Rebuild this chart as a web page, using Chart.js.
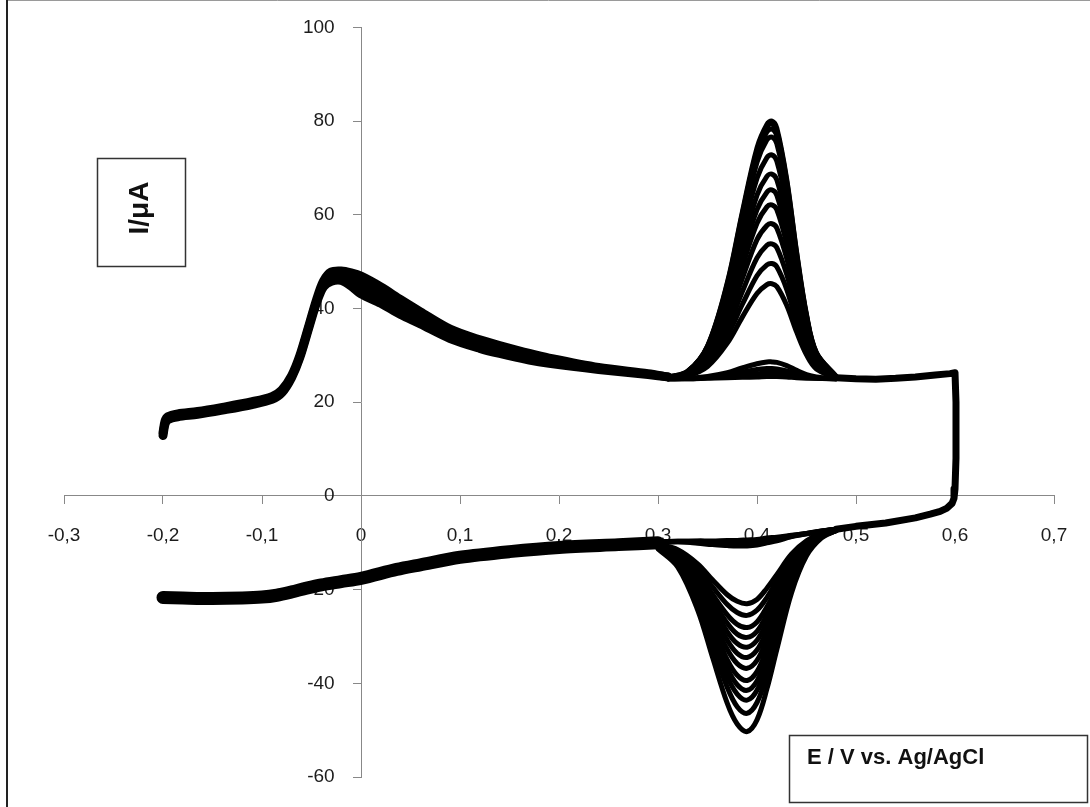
<!DOCTYPE html>
<html>
<head>
<meta charset="utf-8">
<script src="https://cdn.jsdelivr.net/npm/chart.js@4"></script>
<style>
  body { margin: 0; background: #fff; }
  canvas { display: block; }
</style>
</head>
<body>
<canvas id="cvChart" width="1090" height="807"></canvas>
<script>
// axis ticks
var xTicks = [-0.3, -0.2, -0.1, 0, 0.1, 0.2, 0.3, 0.4, 0.5, 0.6, 0.7];
var yTicks = [-60, -40, -20, 0, 20, 40, 60, 80, 100];

// forward scan, shared part (-0.2 .. 0.31 V), upper and lower edge of the band
var fwdE     = [-0.200, -0.198, -0.195, -0.185, -0.165, -0.14, -0.11, -0.09, -0.08, -0.07, -0.062, -0.052, -0.045, -0.038, -0.03, -0.02, -0.01, 0, 0.02, 0.04, 0.06, 0.09, 0.12, 0.14, 0.17, 0.19, 0.24, 0.29, 0.31];
var fwdUpper = [13.5, 15.9, 16.9, 17.5, 18.0, 18.9, 20.1, 21.2, 22.6, 25.7, 29.8, 36.8, 41.8, 45.8, 47.8, 48.0, 47.6, 46.9, 44.6, 41.9, 39.3, 35.6, 33.3, 32.1, 30.4, 29.4, 27.4, 26.1, 25.4];
var fwdLower = [12.9, 15.3, 16.3, 16.9, 17.4, 18.3, 19.5, 20.6, 22.0, 25.3, 29.4, 36.4, 41.2, 44.6, 45.8, 46.0, 44.8, 43.1, 41.1, 38.7, 36.7, 33.6, 31.5, 30.4, 29.0, 28.3, 27.0, 25.9, 25.4];

// anodic peak region, one row per cycle
var anodicE = [0.31, 0.33, 0.35, 0.37, 0.385, 0.40, 0.41, 0.415, 0.42, 0.43, 0.44, 0.45, 0.46, 0.48];
var anodicCycles = [
  [25.0, 25.0, 25.1, 25.2, 25.3, 25.4, 25.5, 25.5, 25.5, 25.4, 25.2, 25.1, 25.1, 25.0],
  [25.0, 25.0, 25.2, 25.4, 25.8, 26.1, 26.2, 26.2, 26.2, 25.9, 25.6, 25.3, 25.1, 25.0],
  [25.0, 25.1, 25.3, 25.8, 26.4, 27.0, 27.2, 27.2, 27.1, 26.7, 26.1, 25.5, 25.2, 25.0],
  [25.0, 25.1, 25.5, 26.3, 27.3, 28.2, 28.6, 28.6, 28.5, 27.8, 26.8, 25.9, 25.4, 25.0],
  [25.1, 25.6, 27.6, 32.6, 38.1, 43.2, 45.1, 45.3, 44.7, 40.7, 35.0, 30.1, 27.1, 25.2],
  [25.1, 25.7, 28.1, 34.2, 40.8, 47.0, 49.3, 49.6, 48.9, 44.1, 37.1, 31.1, 27.5, 25.2],
  [25.1, 25.8, 28.7, 35.7, 43.5, 50.8, 53.5, 53.8, 53.0, 47.3, 39.2, 32.2, 27.9, 25.2],
  [25.2, 26.0, 29.2, 37.3, 46.3, 54.7, 57.7, 58.1, 57.2, 50.7, 41.3, 33.2, 28.3, 25.3],
  [25.2, 26.1, 29.7, 38.8, 48.9, 58.2, 61.7, 62.1, 61.1, 53.8, 43.3, 34.2, 28.7, 25.3],
  [25.2, 26.2, 30.1, 40.0, 51.0, 61.1, 64.8, 65.3, 64.2, 56.2, 44.8, 35.0, 29.1, 25.3],
  [25.2, 26.3, 30.6, 41.3, 53.1, 64.2, 68.2, 68.7, 67.5, 58.9, 46.5, 35.9, 29.4, 25.4],
  [25.2, 26.4, 31.1, 42.8, 55.8, 67.8, 72.2, 72.8, 71.5, 62.1, 48.5, 36.9, 29.8, 25.4],
  [25.2, 26.5, 31.6, 44.2, 58.2, 71.2, 76.0, 76.6, 75.2, 65.0, 50.4, 37.9, 30.2, 25.4],
  [25.2, 26.5, 31.8, 44.8, 59.3, 72.8, 77.7, 78.3, 76.8, 66.3, 51.2, 38.3, 30.4, 25.4],
  [25.3, 26.6, 31.9, 45.2, 60.0, 73.7, 78.8, 79.4, 77.9, 67.2, 51.8, 38.5, 30.5, 25.5],
  [25.3, 26.6, 32.0, 45.5, 60.4, 74.3, 79.3, 80.0, 78.5, 67.6, 52.1, 38.7, 30.6, 25.5]
];

// switching end: forward tail, drop at 0.6 V, start of reverse scan
var endE = [0.48, 0.50, 0.52, 0.54, 0.56, 0.58, 0.595, 0.600, 0.601, 0.601, 0.600, 0.599, 0.597, 0.592, 0.585, 0.575, 0.56, 0.53, 0.50, 0.48];
var endI = [25.2, 25.0, 24.9, 25.1, 25.4, 25.8, 26.1, 26.3, 20.0, 8.0, 1.5, -0.5, -1.6, -2.6, -3.3, -3.9, -4.7, -5.8, -6.5, -7.1];

// cathodic peak region, one row per cycle
var cathodicE = [0.30, 0.32, 0.34, 0.355, 0.37, 0.38, 0.39, 0.40, 0.41, 0.42, 0.435, 0.45, 0.465, 0.48];
var cathodicCycles = [
  [-9.8, -9.7, -9.6, -9.6, -9.5, -9.5, -9.4, -9.3, -9.0, -8.8, -8.4, -8.0, -7.5, -7.1],
  [-9.8, -9.7, -9.7, -9.9, -9.9, -9.9, -9.8, -9.7, -9.3, -9.0, -8.5, -8.0, -7.5, -7.1],
  [-9.9, -9.8, -9.9, -10.1, -10.2, -10.3, -10.2, -10.0, -9.6, -9.3, -8.6, -8.1, -7.6, -7.1],
  [-9.9, -9.8, -10.1, -10.4, -10.6, -10.7, -10.7, -10.5, -10.0, -9.6, -8.7, -8.1, -7.6, -7.1],
  [-10.3, -11.5, -14.5, -17.9, -21.1, -22.5, -23.0, -22.1, -19.7, -16.8, -12.4, -9.6, -8.0, -7.2],
  [-10.4, -11.8, -15.4, -19.4, -23.2, -24.9, -25.5, -24.4, -21.7, -18.2, -13.2, -9.9, -8.1, -7.2],
  [-10.5, -12.2, -16.3, -21.0, -25.4, -27.4, -28.1, -26.9, -23.7, -19.8, -14.0, -10.2, -8.2, -7.3],
  [-10.6, -12.5, -17.1, -22.2, -27.2, -29.5, -30.2, -28.9, -25.4, -21.0, -14.6, -10.4, -8.3, -7.3],
  [-10.7, -12.8, -17.8, -23.5, -29.0, -31.5, -32.3, -30.8, -27.0, -22.2, -15.2, -10.7, -8.3, -7.3],
  [-10.7, -13.1, -18.6, -24.8, -30.8, -33.6, -34.5, -32.9, -28.8, -23.5, -15.9, -10.9, -8.4, -7.3],
  [-10.8, -13.4, -19.4, -26.2, -32.8, -35.8, -36.8, -35.1, -30.6, -24.9, -16.6, -11.2, -8.5, -7.3],
  [-10.9, -13.7, -20.4, -27.8, -35.0, -38.3, -39.4, -37.5, -32.6, -26.4, -17.4, -11.5, -8.6, -7.3],
  [-11.0, -14.0, -21.1, -29.1, -36.8, -40.3, -41.5, -39.5, -34.3, -27.6, -18.0, -11.7, -8.7, -7.4],
  [-11.1, -14.3, -21.9, -30.4, -38.6, -42.3, -43.6, -41.5, -35.9, -28.8, -18.6, -12.0, -8.7, -7.4],
  [-11.2, -14.7, -22.9, -32.1, -40.9, -45.0, -46.4, -44.1, -38.2, -30.5, -19.5, -12.3, -8.8, -7.4],
  [-11.3, -15.2, -24.3, -34.4, -44.3, -48.7, -50.3, -47.8, -41.2, -32.8, -20.6, -12.8, -9.0, -7.4]
];

// reverse scan, shared part (-0.2 .. 0.3 V)
var revLowE = [-0.200, -0.18, -0.15, -0.12, -0.10, -0.085, -0.07, -0.055, -0.04, -0.02, 0, 0.036, 0.06, 0.10, 0.15, 0.20, 0.26, 0.30];
var revLowI = [-21.7, -21.8, -21.9, -21.8, -21.6, -21.2, -20.5, -19.7, -19.0, -18.3, -17.6, -15.7, -14.7, -13.1, -11.9, -11.0, -10.4, -10.0];


function pts(xs, ys) {
    return xs.map(function (x, i) { return { x: x, y: ys[i] }; });
}

function curve(data, width, tension) {
    return {
        data: data,
        showLine: true,
        borderColor: '#000',
        backgroundColor: '#000',
        borderWidth: width,
        borderCapStyle: 'round',
        borderJoinStyle: 'round',
        pointRadius: 0,
        pointHoverRadius: 0,
        tension: tension,
        fill: false
    };
}

var datasets = [];
var upper = curve(pts(fwdE, fwdUpper), 9, 0.3);
upper.fill = '+1';
datasets.push(upper);
datasets.push(curve(pts(fwdE, fwdLower), 9, 0.3));
datasets.push(curve(pts(revLowE, revLowI), 13, 0.3));
datasets.push(curve(pts(endE, endI), 7, 0));
anodicCycles.forEach(function (row) {
    datasets.push(curve(pts(anodicE, row), 5, 0.35));
});
cathodicCycles.forEach(function (row) {
    datasets.push(curve(pts(cathodicE, row), 5, 0.35));
});

function fmt(v) {
    return String(Math.round(v * 10) / 10).replace('.', ',');
}

var boxes = {
    id: 'boxes',
    afterDraw: function (chart) {
        var c = chart.ctx;
        c.save();
        // frame of the picture
        c.strokeStyle = '#9a9a9a';
        c.lineWidth = 1;
        c.beginPath();
        c.moveTo(7, 0.5);
        c.lineTo(1090, 0.5);
        c.stroke();
        c.strokeStyle = '#222';
        c.lineWidth = 2;
        c.beginPath();
        c.moveTo(7, 0);
        c.lineTo(7, 807);
        c.stroke();

        // y title box
        c.strokeStyle = '#333';
        c.lineWidth = 1.5;
        c.strokeRect(97.5, 158.5, 88, 108);
        c.fillStyle = '#111';
        c.font = 'bold 28px "Liberation Sans"';
        c.textAlign = 'center';
        c.textBaseline = 'middle';
        c.translate(140, 208);
        c.rotate(-Math.PI / 2);
        c.fillText('I/\u03bcA', 0, 0);
        c.setTransform(1, 0, 0, 1, 0, 0);

        // x title box
        c.fillStyle = '#fff';
        c.fillRect(789, 735, 300, 68);
        c.strokeRect(789.5, 735.5, 298, 67);
        c.fillStyle = '#111';
        c.font = 'bold 22px "Liberation Sans"';
        c.textAlign = 'left';
        c.textBaseline = 'alphabetic';
        c.fillText('E / V vs. Ag/AgCl', 807, 764);
        c.restore();
    }
};

var axisColor = '#888888';

new Chart(document.getElementById('cvChart'), {
    type: 'scatter',
    data: { datasets: datasets },
    options: {
        responsive: false,
        animation: false,
        events: [],
        layout: { padding: { left: 64, right: 36, top: 25, bottom: 30 } },
        plugins: {
            legend: { display: false },
            tooltip: { enabled: false }
        },
        scales: {
            x: {
                type: 'linear',
                position: { y: 0 },
                min: -0.3,
                max: 0.7,
                afterBuildTicks: function (s) { s.ticks = xTicks.map(function (v) { return { value: v }; }); },
                afterFit: function (s) { s.height = 0; },
                border: { color: axisColor, width: 1 },
                grid: { drawOnChartArea: false, drawTicks: true, tickLength: 8, color: axisColor },
                ticks: {
                    padding: 20,
                    color: '#1c1c1c',
                    font: { family: 'Liberation Sans', size: 19 },
                    maxRotation: 0,
                    autoSkip: false,
                    callback: function (v) { return fmt(v); }
                }
            },
            y: {
                type: 'linear',
                position: { x: 0 },
                min: -60,
                max: 100,
                afterBuildTicks: function (s) { s.ticks = yTicks.map(function (v) { return { value: v }; }); },
                afterFit: function (s) { s.width = 0; },
                border: { color: axisColor, width: 1 },
                grid: { drawOnChartArea: false, drawTicks: true, tickLength: 8, color: axisColor },
                ticks: {
                    padding: 16,
                    color: '#1c1c1c',
                    font: { family: 'Liberation Sans', size: 19 },
                    autoSkip: false,
                    // trailing spaces keep the right-aligned label clear of the tick mark
                    callback: function (v) { return fmt(v) + '     '; }
                }
            }
        }
    },
    plugins: [boxes]
});
</script>
</body>
</html>
